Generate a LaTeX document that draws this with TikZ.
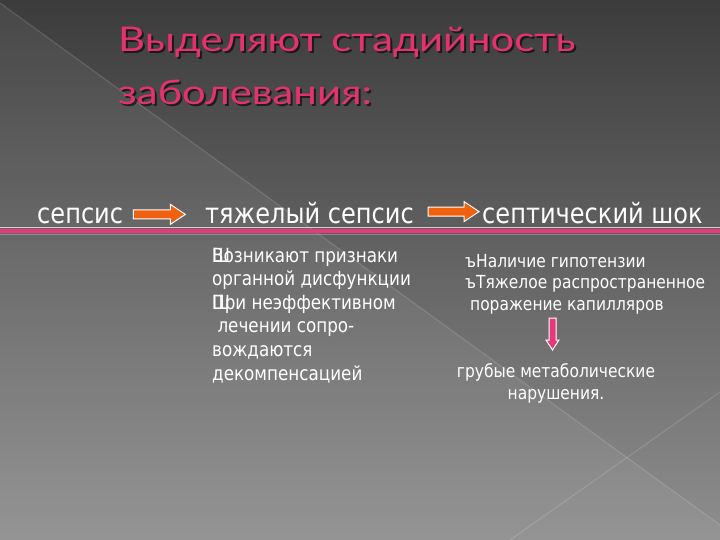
\documentclass[tikz,border=0pt]{standalone}
\usepackage{fontspec}
\setmainfont{DejaVu Sans}
\newfontfamily\titlefont{Lato}[FakeStretch=1.23]
\newfontfamily\bodyfont{DejaVu Sans}[FakeStretch=0.86]
\usetikzlibrary{calc}
\definecolor{bgtop}{HTML}{3C3C3C}
\definecolor{bgmid}{HTML}{5A5A5A}
\definecolor{bgbot}{HTML}{8E8E8E}
\definecolor{titlepink}{HTML}{E5326F}
\definecolor{linepink}{HTML}{E8387C}
\definecolor{arroworange}{HTML}{F0600F}
\tikzset{
  mainlabel/.style={anchor=base west, inner sep=0pt, text=white, font=\bodyfont\fontsize{28}{30}\selectfont},
  bodytext/.style={anchor=base west, inner sep=0pt, text=white, align=left},
  titletext/.style={anchor=base west, inner sep=0pt, align=left, font=\titlefont\fontsize{34}{53}\selectfont},
  blockarrow/.style={fill=arroworange, draw=white, line width=1pt, line join=miter},
  downarrow/.style={fill=linepink, draw=white, line width=1pt, line join=miter},
  faint/.style={draw=white, opacity=0.13, line width=1.2pt}
}
\begin{document}
\begin{tikzpicture}[x=1pt,y=-1pt]
\useasboundingbox (0,0) rectangle (720,540);
% background
\shade[top color=bgtop, middle color=bgmid, bottom color=bgbot] (0,0) rectangle (720,540);
\fill[white, opacity=0.06] (0,3) -- (720,525) -- (720,540) -- (0,540) -- cycle;
\draw[faint] (0,3) -- (720,525);
\draw[faint] (720,392) -- (510,540);
% title (anchor at baseline of last line)
\node[titletext, text=black, opacity=0.6] at (120,107) {Выделяют стадийность\\заболевания:};
\node[titletext, text=titlepink] (title) at (118,105) {Выделяют стадийность\\заболевания:};
% separator line
\draw[white, opacity=0.7, line width=0.8pt] (0,227.5) -- (720,227.5);
\draw[white, opacity=0.25, line width=0.8pt] (0,234.5) -- (720,234.5);
\draw[linepink, line width=4pt] (0,231) -- (720,231);
% main row
\node[mainlabel] (s1) at (37,223) {сепсис};
\node[mainlabel] (s2) at (205,223) {тяжелый сепсис};
\node[mainlabel] (s3) at (482,223) {септический шок};
% orange block arrows
\coordinate (a1) at ($(s1.east)+(10,-1)$);
\coordinate (a2) at ($(s2.east)+(14,-1)$);
\foreach \st/\len in {a1/52, a2/51}{
  \draw[blockarrow] ($(\st)+(0,-4.5)$) -- ++(\len-15,0) -- ++(0,-5.5) -- ++(15,10) -- ++(-15,10) -- ++(0,-5.5) -- ++(-\len+15,0) -- cycle;
}
% left column details (anchor at baseline of last line)
\node[bodytext, font=\bodyfont\fontsize{19.5}{23.6}\selectfont] (d2) at (212,380)
  {\rlap{Ш}Возникают признаки\\органной дисфункции\\\rlap{Ш}При неэффективном\\\ лечении сопро-\\вождаются\\декомпенсацией};
% right column details
\node[bodytext, font=\bodyfont\fontsize{18}{21.5}\selectfont] (d3) at (465,310)
  {ъНаличие гипотензии\\ъТяжелое распространенное\\\ поражение капилляров};
\node[bodytext, font=\bodyfont\fontsize{18}{21.5}\selectfont, align=center, anchor=base] (d4) at (556,399)
  {грубые метаболические\\нарушения.};
% pink down arrow
\coordinate (dtop) at (552.5,318);
\draw[downarrow] ($(dtop)+(-3.5,0)$) -- ++(7,0) -- ++(0,22) -- ++(3,0) -- ++(-6.5,10) -- ++(-6.5,-10) -- ++(3,0) -- cycle;
\end{tikzpicture}
\end{document}
